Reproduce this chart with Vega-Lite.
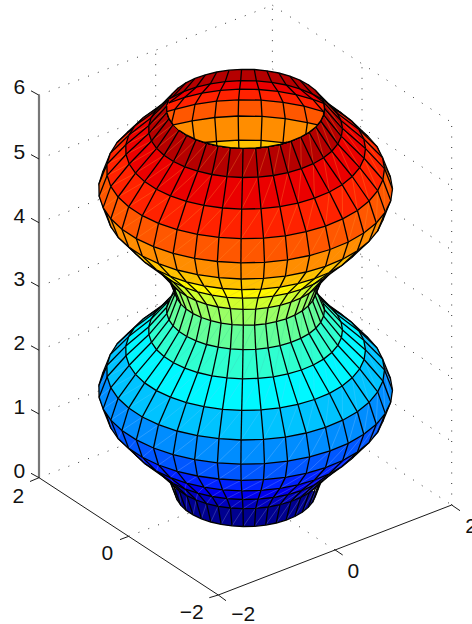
{"$schema":"https://vega.github.io/schema/vega-lite/v6.json","width":472,"height":624,"padding":0,"autosize":{"type":"none"},"background":"white","view":{"stroke":null},
"config":{"line":{"stroke":"#000","strokeWidth":1.3}},
"datasets":{
"d":[
{"i":0,"n":-10,"a":-10,"x":175.2,"y":488.8},{"i":0,"n":-9,"a":-9,"x":175.3,"y":494.5},{"i":0,"n":-8,"a":-8,"x":177.2,"y":500},{"i":0,"n":-7,"a":-7,"x":180.9,"y":505.4},{"i":0,"n":-6,"a":-6,"x":186.2,"y":510.4},{"i":0,"n":-5,"a":-5,"x":193.1,"y":514.9},{"i":0,"n":-4,"a":-4,"x":201.4,"y":518.8},{"i":0,"n":-3,"a":-3,"x":210.8,"y":522},{"i":0,"n":-2,"a":-2,"x":221.1,"y":524.4},{"i":0,"n":-1,"a":-1,"x":232,"y":525.9},{"i":0,"n":0,"a":0,"x":243.3,"y":526.5},{"i":0,"n":1,"a":1,"x":254.6,"y":526.3},{"i":0,"n":2,"a":2,"x":265.7,"y":525.1},{"i":0,"n":3,"a":3,"x":276.3,"y":523},{"i":0,"n":4,"a":4,"x":286.1,"y":520.1},{"i":0,"n":5,"a":5,"x":294.8,"y":516.5},{"i":0,"n":6,"a":6,"x":302.2,"y":512.2},{"i":0,"n":7,"a":7,"x":308.2,"y":507.4},{"i":0,"n":8,"a":8,"x":312.6,"y":502.2},{"i":0,"n":9,"a":9,"x":315.2,"y":496.7},{"i":0,"n":10,"a":10,"x":316,"y":491},
{"i":1,"n":-10,"a":-11,"x":166.7,"y":466.4},{"i":1,"n":-9,"a":-10,"x":166.8,"y":472.7},{"i":1,"n":-8,"a":-9,"x":169,"y":479},{"i":1,"n":-7,"a":-8,"x":173.1,"y":485},{"i":1,"n":-6,"a":-7,"x":179.1,"y":490.6},{"i":1,"n":-5,"a":-6,"x":186.8,"y":495.6},{"i":1,"n":-4,"a":-5,"x":196.1,"y":500},{"i":1,"n":-3,"a":-4,"x":206.6,"y":503.6},{"i":1,"n":-2,"a":-3,"x":218.1,"y":506.3},{"i":1,"n":-1,"a":-2,"x":230.4,"y":508},{"i":1,"n":0,"a":-1,"x":243,"y":508.7},{"i":1,"n":1,"a":0,"x":255.7,"y":508.4},{"i":1,"n":2,"a":1,"x":268.1,"y":507},{"i":1,"n":3,"a":2,"x":280,"y":504.7},{"i":1,"n":4,"a":3,"x":290.9,"y":501.5},{"i":1,"n":5,"a":4,"x":300.7,"y":497.4},{"i":1,"n":6,"a":5,"x":309.1,"y":492.7},{"i":1,"n":7,"a":6,"x":315.8,"y":487.3},{"i":1,"n":8,"a":7,"x":320.7,"y":481.4},{"i":1,"n":9,"a":8,"x":323.6,"y":475.2},{"i":1,"n":10,"a":9,"x":324.5,"y":468.9},
{"i":2,"n":-10,"a":-12,"x":148.8,"y":447.5},{"i":2,"n":-9,"a":-11,"x":148.9,"y":455.3},{"i":2,"n":-8,"a":-10,"x":151.5,"y":463},{"i":2,"n":-7,"a":-9,"x":156.6,"y":470.4},{"i":2,"n":-6,"a":-8,"x":164,"y":477.3},{"i":2,"n":-5,"a":-7,"x":173.5,"y":483.5},{"i":2,"n":-4,"a":-6,"x":184.8,"y":488.8},{"i":2,"n":-3,"a":-5,"x":197.7,"y":493.2},{"i":2,"n":-2,"a":-4,"x":211.9,"y":496.5},{"i":2,"n":-1,"a":-3,"x":226.9,"y":498.6},{"i":2,"n":0,"a":-2,"x":242.5,"y":499.5},{"i":2,"n":1,"a":-1,"x":258,"y":499.1},{"i":2,"n":2,"a":0,"x":273.3,"y":497.5},{"i":2,"n":3,"a":1,"x":287.9,"y":494.6},{"i":2,"n":4,"a":2,"x":301.3,"y":490.7},{"i":2,"n":5,"a":3,"x":313.3,"y":485.7},{"i":2,"n":6,"a":4,"x":323.6,"y":479.8},{"i":2,"n":7,"a":5,"x":331.8,"y":473.2},{"i":2,"n":8,"a":6,"x":337.8,"y":466},{"i":2,"n":9,"a":7,"x":341.4,"y":458.4},{"i":2,"n":10,"a":8,"x":342.5,"y":450.6},
{"i":3,"n":-10,"a":-13,"x":125.8,"y":426.6},{"i":3,"n":-9,"a":-12,"x":126,"y":436.3},{"i":3,"n":-8,"a":-11,"x":129.2,"y":445.8},{"i":3,"n":-7,"a":-10,"x":135.5,"y":454.9},{"i":3,"n":-6,"a":-9,"x":144.6,"y":463.4},{"i":3,"n":-5,"a":-8,"x":156.4,"y":471.1},{"i":3,"n":-4,"a":-7,"x":170.4,"y":477.7},{"i":3,"n":-3,"a":-6,"x":186.4,"y":483.1},{"i":3,"n":-2,"a":-5,"x":203.9,"y":487.2},{"i":3,"n":-1,"a":-4,"x":222.5,"y":489.8},{"i":3,"n":0,"a":-3,"x":241.7,"y":490.9},{"i":3,"n":1,"a":-2,"x":261,"y":490.4},{"i":3,"n":2,"a":-1,"x":279.9,"y":488.4},{"i":3,"n":3,"a":0,"x":297.9,"y":484.9},{"i":3,"n":4,"a":1,"x":314.5,"y":480},{"i":3,"n":5,"a":2,"x":329.4,"y":473.8},{"i":3,"n":6,"a":3,"x":342.1,"y":466.5},{"i":3,"n":7,"a":4,"x":352.2,"y":458.3},{"i":3,"n":8,"a":5,"x":359.7,"y":449.4},{"i":3,"n":9,"a":6,"x":364.1,"y":440},{"i":3,"n":10,"a":7,"x":365.5,"y":430.4},
{"i":4,"n":-10,"a":-14,"x":106.9,"y":405.8},{"i":4,"n":-9,"a":-13,"x":107.1,"y":417},{"i":4,"n":-8,"a":-12,"x":110.8,"y":428},{"i":4,"n":-7,"a":-11,"x":118.1,"y":438.6},{"i":4,"n":-6,"a":-10,"x":128.7,"y":448.4},{"i":4,"n":-5,"a":-9,"x":142.3,"y":457.3},{"i":4,"n":-4,"a":-8,"x":158.5,"y":465},{"i":4,"n":-3,"a":-7,"x":177.1,"y":471.3},{"i":4,"n":-2,"a":-6,"x":197.4,"y":476},{"i":4,"n":-1,"a":-5,"x":218.9,"y":479},{"i":4,"n":0,"a":-4,"x":241.1,"y":480.3},{"i":4,"n":1,"a":-3,"x":263.5,"y":479.7},{"i":4,"n":2,"a":-2,"x":285.4,"y":477.4},{"i":4,"n":3,"a":-1,"x":306.2,"y":473.3},{"i":4,"n":4,"a":0,"x":325.5,"y":467.7},{"i":4,"n":5,"a":1,"x":342.7,"y":460.5},{"i":4,"n":6,"a":2,"x":357.4,"y":452.1},{"i":4,"n":7,"a":3,"x":369.1,"y":442.6},{"i":4,"n":8,"a":4,"x":377.7,"y":432.2},{"i":4,"n":9,"a":5,"x":382.9,"y":421.3},{"i":4,"n":10,"a":6,"x":384.5,"y":410.2},
{"i":5,"n":-12,"a":-17,"x":109.7,"y":362.5},{"i":5,"n":-11,"a":-16,"x":102.5,"y":373.8},{"i":5,"n":-10,"a":-15,"x":98.9,"y":385.4},{"i":5,"n":-9,"a":-14,"x":99.1,"y":397.3},{"i":5,"n":-8,"a":-13,"x":103.1,"y":408.9},{"i":5,"n":-7,"a":-12,"x":110.8,"y":420.1},{"i":5,"n":-6,"a":-11,"x":121.9,"y":430.5},{"i":5,"n":-5,"a":-10,"x":136.3,"y":439.9},{"i":5,"n":-4,"a":-9,"x":153.5,"y":448},{"i":5,"n":-3,"a":-8,"x":173.1,"y":454.7},{"i":5,"n":-2,"a":-7,"x":194.6,"y":459.7},{"i":5,"n":-1,"a":-6,"x":217.4,"y":462.8},{"i":5,"n":0,"a":-5,"x":240.9,"y":464.2},{"i":5,"n":1,"a":-4,"x":264.5,"y":463.6},{"i":5,"n":2,"a":-3,"x":287.6,"y":461.1},{"i":5,"n":3,"a":-2,"x":309.7,"y":456.8},{"i":5,"n":4,"a":-1,"x":330.1,"y":450.8},{"i":5,"n":5,"a":0,"x":348.3,"y":443.3},{"i":5,"n":6,"a":1,"x":363.8,"y":434.3},{"i":5,"n":7,"a":2,"x":376.3,"y":424.3},{"i":5,"n":8,"a":3,"x":385.3,"y":413.4},{"i":5,"n":9,"a":4,"x":390.8,"y":401.9},{"i":5,"n":10,"a":5,"x":392.5,"y":390.1},{"i":5,"n":11,"a":6,"x":390.4,"y":378.3},{"i":5,"n":12,"a":7,"x":384.5,"y":366.8},
{"i":6,"n":-14,"a":-20,"x":140.6,"y":324.9},{"i":6,"n":-13,"a":-19,"x":127.3,"y":333.9},{"i":6,"n":-12,"a":-18,"x":117.1,"y":343.8},{"i":6,"n":-11,"a":-17,"x":110.3,"y":354.5},{"i":6,"n":-10,"a":-16,"x":106.9,"y":365.5},{"i":6,"n":-9,"a":-15,"x":107.1,"y":376.7},{"i":6,"n":-8,"a":-14,"x":110.8,"y":387.7},{"i":6,"n":-7,"a":-13,"x":118.1,"y":398.3},{"i":6,"n":-6,"a":-12,"x":128.7,"y":408.1},{"i":6,"n":-5,"a":-11,"x":142.3,"y":417},{"i":6,"n":-4,"a":-10,"x":158.5,"y":424.7},{"i":6,"n":-3,"a":-9,"x":177.1,"y":431},{"i":6,"n":-2,"a":-8,"x":197.4,"y":435.7},{"i":6,"n":-1,"a":-7,"x":218.9,"y":438.7},{"i":6,"n":0,"a":-6,"x":241.1,"y":440},{"i":6,"n":1,"a":-5,"x":263.5,"y":439.4},{"i":6,"n":2,"a":-4,"x":285.4,"y":437.1},{"i":6,"n":3,"a":-3,"x":306.2,"y":433},{"i":6,"n":4,"a":-2,"x":325.5,"y":427.4},{"i":6,"n":5,"a":-1,"x":342.7,"y":420.2},{"i":6,"n":6,"a":0,"x":357.4,"y":411.8},{"i":6,"n":7,"a":1,"x":369.1,"y":402.3},{"i":6,"n":8,"a":2,"x":377.7,"y":391.9},{"i":6,"n":9,"a":3,"x":382.9,"y":381},{"i":6,"n":10,"a":4,"x":384.5,"y":369.9},{"i":6,"n":11,"a":5,"x":382.5,"y":358.8},{"i":6,"n":12,"a":6,"x":377,"y":347.9},{"i":6,"n":13,"a":7,"x":368,"y":337.7},{"i":6,"n":14,"a":8,"x":355.9,"y":328.3},
{"i":7,"n":-15,"a":-22,"x":168.8,"y":304.3},{"i":7,"n":-14,"a":-21,"x":155,"y":311},{"i":7,"n":-13,"a":-20,"x":143.5,"y":318.8},{"i":7,"n":-12,"a":-19,"x":134.7,"y":327.4},{"i":7,"n":-11,"a":-18,"x":128.7,"y":336.6},{"i":7,"n":-10,"a":-17,"x":125.8,"y":346.1},{"i":7,"n":-9,"a":-16,"x":126,"y":355.8},{"i":7,"n":-8,"a":-15,"x":129.2,"y":365.3},{"i":7,"n":-7,"a":-14,"x":135.5,"y":374.4},{"i":7,"n":-6,"a":-13,"x":144.6,"y":382.9},{"i":7,"n":-5,"a":-12,"x":156.4,"y":390.6},{"i":7,"n":-4,"a":-11,"x":170.4,"y":397.2},{"i":7,"n":-3,"a":-10,"x":186.4,"y":402.6},{"i":7,"n":-2,"a":-9,"x":203.9,"y":406.7},{"i":7,"n":-1,"a":-8,"x":222.5,"y":409.3},{"i":7,"n":0,"a":-7,"x":241.7,"y":410.4},{"i":7,"n":1,"a":-6,"x":261,"y":409.9},{"i":7,"n":2,"a":-5,"x":279.9,"y":407.9},{"i":7,"n":3,"a":-4,"x":297.9,"y":404.4},{"i":7,"n":4,"a":-3,"x":314.5,"y":399.5},{"i":7,"n":5,"a":-2,"x":329.4,"y":393.3},{"i":7,"n":6,"a":-1,"x":342.1,"y":386},{"i":7,"n":7,"a":0,"x":352.2,"y":377.8},{"i":7,"n":8,"a":1,"x":359.7,"y":368.9},{"i":7,"n":9,"a":2,"x":364.1,"y":359.5},{"i":7,"n":10,"a":3,"x":365.5,"y":349.9},{"i":7,"n":11,"a":4,"x":363.8,"y":340.3},{"i":7,"n":12,"a":5,"x":359,"y":330.9},{"i":7,"n":13,"a":6,"x":351.3,"y":322},{"i":7,"n":14,"a":7,"x":340.8,"y":313.9},{"i":7,"n":15,"a":8,"x":327.9,"y":306.8},
{"i":8,"n":-14,"a":-22,"x":172.3,"y":298.5},{"i":8,"n":-13,"a":-21,"x":163,"y":304.8},{"i":8,"n":-12,"a":-20,"x":155.9,"y":311.7},{"i":8,"n":-11,"a":-19,"x":151.1,"y":319.1},{"i":8,"n":-10,"a":-18,"x":148.8,"y":326.8},{"i":8,"n":-9,"a":-17,"x":148.9,"y":334.6},{"i":8,"n":-8,"a":-16,"x":151.5,"y":342.3},{"i":8,"n":-7,"a":-15,"x":156.6,"y":349.7},{"i":8,"n":-6,"a":-14,"x":164,"y":356.6},{"i":8,"n":-5,"a":-13,"x":173.5,"y":362.8},{"i":8,"n":-4,"a":-12,"x":184.8,"y":368.1},{"i":8,"n":-3,"a":-11,"x":197.7,"y":372.5},{"i":8,"n":-2,"a":-10,"x":211.9,"y":375.8},{"i":8,"n":-1,"a":-9,"x":226.9,"y":377.9},{"i":8,"n":0,"a":-8,"x":242.5,"y":378.8},{"i":8,"n":1,"a":-7,"x":258,"y":378.4},{"i":8,"n":2,"a":-6,"x":273.3,"y":376.8},{"i":8,"n":3,"a":-5,"x":287.9,"y":373.9},{"i":8,"n":4,"a":-4,"x":301.3,"y":370},{"i":8,"n":5,"a":-3,"x":313.3,"y":365},{"i":8,"n":6,"a":-2,"x":323.6,"y":359.1},{"i":8,"n":7,"a":-1,"x":331.8,"y":352.5},{"i":8,"n":8,"a":0,"x":337.8,"y":345.3},{"i":8,"n":9,"a":1,"x":341.4,"y":337.7},{"i":8,"n":10,"a":2,"x":342.5,"y":329.9},{"i":8,"n":11,"a":3,"x":341.1,"y":322.1},{"i":8,"n":12,"a":4,"x":337.2,"y":314.5},{"i":8,"n":13,"a":5,"x":331,"y":307.4},{"i":8,"n":14,"a":6,"x":322.5,"y":300.8},
{"i":9,"n":-13,"a":-22,"x":178.3,"y":289.3},{"i":9,"n":-12,"a":-21,"x":172.5,"y":294.9},{"i":9,"n":-11,"a":-20,"x":168.6,"y":301},{"i":9,"n":-10,"a":-19,"x":166.7,"y":307.3},{"i":9,"n":-9,"a":-18,"x":166.8,"y":313.6},{"i":9,"n":-8,"a":-17,"x":169,"y":319.9},{"i":9,"n":-7,"a":-16,"x":173.1,"y":325.9},{"i":9,"n":-6,"a":-15,"x":179.1,"y":331.5},{"i":9,"n":-5,"a":-14,"x":186.8,"y":336.5},{"i":9,"n":-4,"a":-13,"x":196.1,"y":340.9},{"i":9,"n":-3,"a":-12,"x":206.6,"y":344.5},{"i":9,"n":-2,"a":-11,"x":218.1,"y":347.2},{"i":9,"n":-1,"a":-10,"x":230.4,"y":348.9},{"i":9,"n":0,"a":-9,"x":243,"y":349.6},{"i":9,"n":1,"a":-8,"x":255.7,"y":349.3},{"i":9,"n":2,"a":-7,"x":268.1,"y":347.9},{"i":9,"n":3,"a":-6,"x":280,"y":345.6},{"i":9,"n":4,"a":-5,"x":290.9,"y":342.4},{"i":9,"n":5,"a":-4,"x":300.7,"y":338.3},{"i":9,"n":6,"a":-3,"x":309.1,"y":333.6},{"i":9,"n":7,"a":-2,"x":315.8,"y":328.2},{"i":9,"n":8,"a":-1,"x":320.7,"y":322.3},{"i":9,"n":9,"a":0,"x":323.6,"y":316.1},{"i":9,"n":10,"a":1,"x":324.5,"y":309.8},{"i":9,"n":11,"a":2,"x":323.4,"y":303.4},{"i":9,"n":12,"a":3,"x":320.2,"y":297.3},{"i":9,"n":13,"a":4,"x":315.1,"y":291.4},
{"i":10,"n":-10,"a":-20,"x":175.2,"y":287.5},{"i":10,"n":-9,"a":-19,"x":175.3,"y":293.2},{"i":10,"n":-8,"a":-18,"x":177.2,"y":298.7},{"i":10,"n":-7,"a":-17,"x":180.9,"y":304.1},{"i":10,"n":-6,"a":-16,"x":186.2,"y":309.1},{"i":10,"n":-5,"a":-15,"x":193.1,"y":313.6},{"i":10,"n":-4,"a":-14,"x":201.4,"y":317.5},{"i":10,"n":-3,"a":-13,"x":210.8,"y":320.7},{"i":10,"n":-2,"a":-12,"x":221.1,"y":323.1},{"i":10,"n":-1,"a":-11,"x":232,"y":324.6},{"i":10,"n":0,"a":-10,"x":243.3,"y":325.2},{"i":10,"n":1,"a":-9,"x":254.6,"y":325},{"i":10,"n":2,"a":-8,"x":265.7,"y":323.8},{"i":10,"n":3,"a":-7,"x":276.3,"y":321.7},{"i":10,"n":4,"a":-6,"x":286.1,"y":318.8},{"i":10,"n":5,"a":-5,"x":294.8,"y":315.2},{"i":10,"n":6,"a":-4,"x":302.2,"y":310.9},{"i":10,"n":7,"a":-3,"x":308.2,"y":306.1},{"i":10,"n":8,"a":-2,"x":312.6,"y":300.9},{"i":10,"n":9,"a":-1,"x":315.2,"y":295.4},{"i":10,"n":10,"a":0,"x":316,"y":289.7},
{"i":11,"n":-10,"a":-21,"x":166.7,"y":267.1},{"i":11,"n":-9,"a":-20,"x":166.8,"y":273.4},{"i":11,"n":-8,"a":-19,"x":169,"y":279.7},{"i":11,"n":-7,"a":-18,"x":173.1,"y":285.7},{"i":11,"n":-6,"a":-17,"x":179.1,"y":291.3},{"i":11,"n":-5,"a":-16,"x":186.8,"y":296.3},{"i":11,"n":-4,"a":-15,"x":196.1,"y":300.7},{"i":11,"n":-3,"a":-14,"x":206.6,"y":304.3},{"i":11,"n":-2,"a":-13,"x":218.1,"y":307},{"i":11,"n":-1,"a":-12,"x":230.4,"y":308.7},{"i":11,"n":0,"a":-11,"x":243,"y":309.4},{"i":11,"n":1,"a":-10,"x":255.7,"y":309.1},{"i":11,"n":2,"a":-9,"x":268.1,"y":307.7},{"i":11,"n":3,"a":-8,"x":280,"y":305.4},{"i":11,"n":4,"a":-7,"x":290.9,"y":302.2},{"i":11,"n":5,"a":-6,"x":300.7,"y":298.1},{"i":11,"n":6,"a":-5,"x":309.1,"y":293.4},{"i":11,"n":7,"a":-4,"x":315.8,"y":288},{"i":11,"n":8,"a":-3,"x":320.7,"y":282.1},{"i":11,"n":9,"a":-2,"x":323.6,"y":275.9},{"i":11,"n":10,"a":-1,"x":324.5,"y":269.6},
{"i":12,"n":-10,"a":-22,"x":148.8,"y":246.2},{"i":12,"n":-9,"a":-21,"x":148.9,"y":254},{"i":12,"n":-8,"a":-20,"x":151.5,"y":261.7},{"i":12,"n":-7,"a":-19,"x":156.6,"y":269.1},{"i":12,"n":-6,"a":-18,"x":164,"y":276},{"i":12,"n":-5,"a":-17,"x":173.5,"y":282.2},{"i":12,"n":-4,"a":-16,"x":184.8,"y":287.5},{"i":12,"n":-3,"a":-15,"x":197.7,"y":291.9},{"i":12,"n":-2,"a":-14,"x":211.9,"y":295.2},{"i":12,"n":-1,"a":-13,"x":226.9,"y":297.3},{"i":12,"n":0,"a":-12,"x":242.5,"y":298.2},{"i":12,"n":1,"a":-11,"x":258,"y":297.8},{"i":12,"n":2,"a":-10,"x":273.3,"y":296.2},{"i":12,"n":3,"a":-9,"x":287.9,"y":293.3},{"i":12,"n":4,"a":-8,"x":301.3,"y":289.4},{"i":12,"n":5,"a":-7,"x":313.3,"y":284.4},{"i":12,"n":6,"a":-6,"x":323.6,"y":278.5},{"i":12,"n":7,"a":-5,"x":331.8,"y":271.9},{"i":12,"n":8,"a":-4,"x":337.8,"y":264.7},{"i":12,"n":9,"a":-3,"x":341.4,"y":257.1},{"i":12,"n":10,"a":-2,"x":342.5,"y":249.3},
{"i":13,"n":-10,"a":-23,"x":125.8,"y":225.3},{"i":13,"n":-9,"a":-22,"x":126,"y":235},{"i":13,"n":-8,"a":-21,"x":129.2,"y":244.5},{"i":13,"n":-7,"a":-20,"x":135.5,"y":253.6},{"i":13,"n":-6,"a":-19,"x":144.6,"y":262.1},{"i":13,"n":-5,"a":-18,"x":156.4,"y":269.8},{"i":13,"n":-4,"a":-17,"x":170.4,"y":276.4},{"i":13,"n":-3,"a":-16,"x":186.4,"y":281.8},{"i":13,"n":-2,"a":-15,"x":203.9,"y":285.9},{"i":13,"n":-1,"a":-14,"x":222.5,"y":288.5},{"i":13,"n":0,"a":-13,"x":241.7,"y":289.6},{"i":13,"n":1,"a":-12,"x":261,"y":289.1},{"i":13,"n":2,"a":-11,"x":279.9,"y":287.1},{"i":13,"n":3,"a":-10,"x":297.9,"y":283.6},{"i":13,"n":4,"a":-9,"x":314.5,"y":278.7},{"i":13,"n":5,"a":-8,"x":329.4,"y":272.5},{"i":13,"n":6,"a":-7,"x":342.1,"y":265.2},{"i":13,"n":7,"a":-6,"x":352.2,"y":257},{"i":13,"n":8,"a":-5,"x":359.7,"y":248.1},{"i":13,"n":9,"a":-4,"x":364.1,"y":238.7},{"i":13,"n":10,"a":-3,"x":365.5,"y":229.1},
{"i":14,"n":-10,"a":-24,"x":106.9,"y":204.5},{"i":14,"n":-9,"a":-23,"x":107.1,"y":215.7},{"i":14,"n":-8,"a":-22,"x":110.8,"y":226.7},{"i":14,"n":-7,"a":-21,"x":118.1,"y":237.3},{"i":14,"n":-6,"a":-20,"x":128.7,"y":247.1},{"i":14,"n":-5,"a":-19,"x":142.3,"y":256},{"i":14,"n":-4,"a":-18,"x":158.5,"y":263.7},{"i":14,"n":-3,"a":-17,"x":177.1,"y":270},{"i":14,"n":-2,"a":-16,"x":197.4,"y":274.7},{"i":14,"n":-1,"a":-15,"x":218.9,"y":277.7},{"i":14,"n":0,"a":-14,"x":241.1,"y":279},{"i":14,"n":1,"a":-13,"x":263.5,"y":278.4},{"i":14,"n":2,"a":-12,"x":285.4,"y":276.1},{"i":14,"n":3,"a":-11,"x":306.2,"y":272},{"i":14,"n":4,"a":-10,"x":325.5,"y":266.4},{"i":14,"n":5,"a":-9,"x":342.7,"y":259.2},{"i":14,"n":6,"a":-8,"x":357.4,"y":250.8},{"i":14,"n":7,"a":-7,"x":369.1,"y":241.3},{"i":14,"n":8,"a":-6,"x":377.7,"y":230.9},{"i":14,"n":9,"a":-5,"x":382.9,"y":220},{"i":14,"n":10,"a":-4,"x":384.5,"y":208.9},
{"i":15,"n":-12,"a":-27,"x":109.7,"y":161.2},{"i":15,"n":-11,"a":-26,"x":102.5,"y":172.5},{"i":15,"n":-10,"a":-25,"x":98.9,"y":184.1},{"i":15,"n":-9,"a":-24,"x":99.1,"y":196},{"i":15,"n":-8,"a":-23,"x":103.1,"y":207.6},{"i":15,"n":-7,"a":-22,"x":110.8,"y":218.8},{"i":15,"n":-6,"a":-21,"x":121.9,"y":229.2},{"i":15,"n":-5,"a":-20,"x":136.3,"y":238.6},{"i":15,"n":-4,"a":-19,"x":153.5,"y":246.7},{"i":15,"n":-3,"a":-18,"x":173.1,"y":253.4},{"i":15,"n":-2,"a":-17,"x":194.6,"y":258.4},{"i":15,"n":-1,"a":-16,"x":217.4,"y":261.5},{"i":15,"n":0,"a":-15,"x":240.9,"y":262.9},{"i":15,"n":1,"a":-14,"x":264.5,"y":262.3},{"i":15,"n":2,"a":-13,"x":287.6,"y":259.8},{"i":15,"n":3,"a":-12,"x":309.7,"y":255.5},{"i":15,"n":4,"a":-11,"x":330.1,"y":249.5},{"i":15,"n":5,"a":-10,"x":348.3,"y":242},{"i":15,"n":6,"a":-9,"x":363.8,"y":233},{"i":15,"n":7,"a":-8,"x":376.3,"y":223},{"i":15,"n":8,"a":-7,"x":385.3,"y":212.1},{"i":15,"n":9,"a":-6,"x":390.8,"y":200.6},{"i":15,"n":10,"a":-5,"x":392.5,"y":188.8},{"i":15,"n":11,"a":-4,"x":390.4,"y":177},{"i":15,"n":12,"a":-3,"x":384.5,"y":165.5},
{"i":16,"n":-14,"a":-30,"x":140.6,"y":123.6},{"i":16,"n":-13,"a":-29,"x":127.3,"y":132.6},{"i":16,"n":-12,"a":-28,"x":117.1,"y":142.5},{"i":16,"n":-11,"a":-27,"x":110.3,"y":153.2},{"i":16,"n":-10,"a":-26,"x":106.9,"y":164.2},{"i":16,"n":-9,"a":-25,"x":107.1,"y":175.4},{"i":16,"n":-8,"a":-24,"x":110.8,"y":186.4},{"i":16,"n":-7,"a":-23,"x":118.1,"y":197},{"i":16,"n":-6,"a":-22,"x":128.7,"y":206.8},{"i":16,"n":-5,"a":-21,"x":142.3,"y":215.7},{"i":16,"n":-4,"a":-20,"x":158.5,"y":223.4},{"i":16,"n":-3,"a":-19,"x":177.1,"y":229.7},{"i":16,"n":-2,"a":-18,"x":197.4,"y":234.4},{"i":16,"n":-1,"a":-17,"x":218.9,"y":237.4},{"i":16,"n":0,"a":-16,"x":241.1,"y":238.7},{"i":16,"n":1,"a":-15,"x":263.5,"y":238.1},{"i":16,"n":2,"a":-14,"x":285.4,"y":235.8},{"i":16,"n":3,"a":-13,"x":306.2,"y":231.7},{"i":16,"n":4,"a":-12,"x":325.5,"y":226.1},{"i":16,"n":5,"a":-11,"x":342.7,"y":218.9},{"i":16,"n":6,"a":-10,"x":357.4,"y":210.5},{"i":16,"n":7,"a":-9,"x":369.1,"y":201},{"i":16,"n":8,"a":-8,"x":377.7,"y":190.6},{"i":16,"n":9,"a":-7,"x":382.9,"y":179.7},{"i":16,"n":10,"a":-6,"x":384.5,"y":168.6},{"i":16,"n":11,"a":-5,"x":382.5,"y":157.5},{"i":16,"n":12,"a":-4,"x":377,"y":146.6},{"i":16,"n":13,"a":-3,"x":368,"y":136.4},{"i":16,"n":14,"a":-2,"x":355.9,"y":127},
{"i":17,"n":-15,"a":-32,"x":168.8,"y":103},{"i":17,"n":-14,"a":-31,"x":155,"y":109.7},{"i":17,"n":-13,"a":-30,"x":143.5,"y":117.5},{"i":17,"n":-12,"a":-29,"x":134.7,"y":126.1},{"i":17,"n":-11,"a":-28,"x":128.7,"y":135.3},{"i":17,"n":-10,"a":-27,"x":125.8,"y":144.8},{"i":17,"n":-9,"a":-26,"x":126,"y":154.5},{"i":17,"n":-8,"a":-25,"x":129.2,"y":164},{"i":17,"n":-7,"a":-24,"x":135.5,"y":173.1},{"i":17,"n":-6,"a":-23,"x":144.6,"y":181.6},{"i":17,"n":-5,"a":-22,"x":156.4,"y":189.3},{"i":17,"n":-4,"a":-21,"x":170.4,"y":195.9},{"i":17,"n":-3,"a":-20,"x":186.4,"y":201.3},{"i":17,"n":-2,"a":-19,"x":203.9,"y":205.4},{"i":17,"n":-1,"a":-18,"x":222.5,"y":208},{"i":17,"n":0,"a":-17,"x":241.7,"y":209.1},{"i":17,"n":1,"a":-16,"x":261,"y":208.6},{"i":17,"n":2,"a":-15,"x":279.9,"y":206.6},{"i":17,"n":3,"a":-14,"x":297.9,"y":203.1},{"i":17,"n":4,"a":-13,"x":314.5,"y":198.2},{"i":17,"n":5,"a":-12,"x":329.4,"y":192},{"i":17,"n":6,"a":-11,"x":342.1,"y":184.7},{"i":17,"n":7,"a":-10,"x":352.2,"y":176.5},{"i":17,"n":8,"a":-9,"x":359.7,"y":167.6},{"i":17,"n":9,"a":-8,"x":364.1,"y":158.2},{"i":17,"n":10,"a":-7,"x":365.5,"y":148.6},{"i":17,"n":11,"a":-6,"x":363.8,"y":139},{"i":17,"n":12,"a":-5,"x":359,"y":129.6},{"i":17,"n":13,"a":-4,"x":351.3,"y":120.7},{"i":17,"n":14,"a":-3,"x":340.8,"y":112.6},{"i":17,"n":15,"a":-2,"x":327.9,"y":105.5},
{"i":18,"n":-14,"a":-32,"x":172.3,"y":97.2},{"i":18,"n":-13,"a":-31,"x":163,"y":103.5},{"i":18,"n":-12,"a":-30,"x":155.9,"y":110.4},{"i":18,"n":-11,"a":-29,"x":151.1,"y":117.8},{"i":18,"n":-10,"a":-28,"x":148.8,"y":125.5},{"i":18,"n":-9,"a":-27,"x":148.9,"y":133.3},{"i":18,"n":-8,"a":-26,"x":151.5,"y":141},{"i":18,"n":-7,"a":-25,"x":156.6,"y":148.4},{"i":18,"n":-6,"a":-24,"x":164,"y":155.3},{"i":18,"n":-5,"a":-23,"x":173.5,"y":161.5},{"i":18,"n":-4,"a":-22,"x":184.8,"y":166.8},{"i":18,"n":-3,"a":-21,"x":197.7,"y":171.2},{"i":18,"n":-2,"a":-20,"x":211.9,"y":174.5},{"i":18,"n":-1,"a":-19,"x":226.9,"y":176.6},{"i":18,"n":0,"a":-18,"x":242.5,"y":177.5},{"i":18,"n":1,"a":-17,"x":258,"y":177.1},{"i":18,"n":2,"a":-16,"x":273.3,"y":175.5},{"i":18,"n":3,"a":-15,"x":287.9,"y":172.6},{"i":18,"n":4,"a":-14,"x":301.3,"y":168.7},{"i":18,"n":5,"a":-13,"x":313.3,"y":163.7},{"i":18,"n":6,"a":-12,"x":323.6,"y":157.8},{"i":18,"n":7,"a":-11,"x":331.8,"y":151.2},{"i":18,"n":8,"a":-10,"x":337.8,"y":144},{"i":18,"n":9,"a":-9,"x":341.4,"y":136.4},{"i":18,"n":10,"a":-8,"x":342.5,"y":128.6},{"i":18,"n":11,"a":-7,"x":341.1,"y":120.8},{"i":18,"n":12,"a":-6,"x":337.2,"y":113.2},{"i":18,"n":13,"a":-5,"x":331,"y":106.1},{"i":18,"n":14,"a":-4,"x":322.5,"y":99.5},
{"i":19,"n":-19,"a":-38,"x":241.6,"y":69.3},{"i":19,"n":-18,"a":-37,"x":229,"y":70.2},{"i":19,"n":-17,"a":-36,"x":216.8,"y":72},{"i":19,"n":-16,"a":-35,"x":205.4,"y":74.8},{"i":19,"n":-15,"a":-34,"x":195,"y":78.4},{"i":19,"n":-14,"a":-33,"x":185.9,"y":82.9},{"i":19,"n":-13,"a":-32,"x":178.3,"y":88},{"i":19,"n":-12,"a":-31,"x":172.5,"y":93.6},{"i":19,"n":-11,"a":-30,"x":168.6,"y":99.7},{"i":19,"n":-10,"a":-29,"x":166.7,"y":106},{"i":19,"n":-9,"a":-28,"x":166.8,"y":112.3},{"i":19,"n":-8,"a":-27,"x":169,"y":118.6},{"i":19,"n":-7,"a":-26,"x":173.1,"y":124.6},{"i":19,"n":-6,"a":-25,"x":179.1,"y":130.2},{"i":19,"n":-5,"a":-24,"x":186.8,"y":135.2},{"i":19,"n":-4,"a":-23,"x":196.1,"y":139.6},{"i":19,"n":-3,"a":-22,"x":206.6,"y":143.2},{"i":19,"n":-2,"a":-21,"x":218.1,"y":145.9},{"i":19,"n":-1,"a":-20,"x":230.4,"y":147.6},{"i":19,"n":0,"a":-19,"x":243,"y":148.3},{"i":19,"n":1,"a":-18,"x":255.7,"y":148},{"i":19,"n":2,"a":-17,"x":268.1,"y":146.6},{"i":19,"n":3,"a":-16,"x":280,"y":144.3},{"i":19,"n":4,"a":-15,"x":290.9,"y":141.1},{"i":19,"n":5,"a":-14,"x":300.7,"y":137},{"i":19,"n":6,"a":-13,"x":309.1,"y":132.3},{"i":19,"n":7,"a":-12,"x":315.8,"y":126.9},{"i":19,"n":8,"a":-11,"x":320.7,"y":121},{"i":19,"n":9,"a":-10,"x":323.6,"y":114.8},{"i":19,"n":10,"a":-9,"x":324.5,"y":108.5},{"i":19,"n":11,"a":-8,"x":323.4,"y":102.1},{"i":19,"n":12,"a":-7,"x":320.2,"y":96},{"i":19,"n":13,"a":-6,"x":315.1,"y":90.1},{"i":19,"n":14,"a":-5,"x":308.2,"y":84.8},{"i":19,"n":15,"a":-4,"x":299.8,"y":80.1},{"i":19,"n":16,"a":-3,"x":289.8,"y":76.1},{"i":19,"n":17,"a":-2,"x":278.8,"y":73},{"i":19,"n":18,"a":-1,"x":266.8,"y":70.8},{"i":19,"n":19,"a":0,"x":254.3,"y":69.5},{"i":19,"n":20,"a":99,"x":241.6,"y":69.3}
],
"w":[
{"i":17,"s":0,"x":169,"y":99},{"i":17,"s":1,"x":172.3,"y":97.2},{"i":17,"s":2,"x":183.5,"y":91.7},{"i":17,"s":3,"x":196.2,"y":87.2},{"i":17,"s":4,"x":210.3,"y":83.8},{"i":17,"s":5,"x":225.2,"y":81.6},{"i":17,"s":6,"x":240.7,"y":80.6},{"i":17,"s":7,"x":256.4,"y":80.8},{"i":17,"s":8,"x":271.7,"y":82.3},{"i":17,"s":9,"x":286.3,"y":85},{"i":17,"s":10,"x":299.9,"y":88.9},{"i":17,"s":11,"x":312.1,"y":93.8},{"i":17,"s":12,"x":322.5,"y":99.5},{"i":17,"s":13,"x":323.4,"y":102.1},{"i":17,"s":14,"x":324.5,"y":108.5},{"i":17,"s":15,"x":323.6,"y":114.8},{"i":17,"s":16,"x":320.7,"y":121},{"i":17,"s":17,"x":315.8,"y":126.9},{"i":17,"s":18,"x":309.1,"y":132.3},{"i":17,"s":19,"x":300.7,"y":137},{"i":17,"s":20,"x":290.9,"y":141.1},{"i":17,"s":21,"x":280,"y":144.3},{"i":17,"s":22,"x":268.1,"y":146.6},{"i":17,"s":23,"x":255.7,"y":148},{"i":17,"s":24,"x":243,"y":148.3},{"i":17,"s":25,"x":230.4,"y":147.6},{"i":17,"s":26,"x":218.1,"y":145.9},{"i":17,"s":27,"x":206.6,"y":143.2},{"i":17,"s":28,"x":196.1,"y":139.6},{"i":17,"s":29,"x":186.8,"y":135.2},{"i":17,"s":30,"x":179.1,"y":130.2},{"i":17,"s":31,"x":173.1,"y":124.6},{"i":17,"s":32,"x":169,"y":118.6},{"i":17,"s":33,"x":166.8,"y":112.3},{"i":17,"s":34,"x":166.7,"y":106},{"i":17,"s":35,"x":168.6,"y":99.7},
{"i":16,"s":0,"x":168.8,"y":103},{"i":16,"s":1,"x":184.6,"y":97.4},{"i":16,"s":2,"x":201.9,"y":93.2},{"i":16,"s":3,"x":220.4,"y":90.4},{"i":16,"s":4,"x":239.6,"y":89.2},{"i":16,"s":5,"x":258.9,"y":89.5},{"i":16,"s":6,"x":277.9,"y":91.3},{"i":16,"s":7,"x":296,"y":94.7},{"i":16,"s":8,"x":312.8,"y":99.4},{"i":16,"s":9,"x":323.7,"y":103.3},{"i":16,"s":10,"x":324.5,"y":108.5},{"i":16,"s":11,"x":323.6,"y":114.8},{"i":16,"s":12,"x":320.7,"y":121},{"i":16,"s":13,"x":315.8,"y":126.9},{"i":16,"s":14,"x":309.1,"y":132.3},{"i":16,"s":15,"x":300.7,"y":137},{"i":16,"s":16,"x":290.9,"y":141.1},{"i":16,"s":17,"x":280,"y":144.3},{"i":16,"s":18,"x":268.1,"y":146.6},{"i":16,"s":19,"x":255.7,"y":148},{"i":16,"s":20,"x":243,"y":148.3},{"i":16,"s":21,"x":230.4,"y":147.6},{"i":16,"s":22,"x":218.1,"y":145.9},{"i":16,"s":23,"x":206.6,"y":143.2},{"i":16,"s":24,"x":196.1,"y":139.6},{"i":16,"s":25,"x":186.8,"y":135.2},{"i":16,"s":26,"x":179.1,"y":130.2},{"i":16,"s":27,"x":173.1,"y":124.6},{"i":16,"s":28,"x":169,"y":118.6},{"i":16,"s":29,"x":166.8,"y":112.3},{"i":16,"s":30,"x":166.7,"y":106},
{"i":15,"s":0,"x":166.7,"y":111.6},{"i":15,"s":1,"x":174.9,"y":109.3},{"i":15,"s":2,"x":195,"y":104.4},{"i":15,"s":3,"x":216.5,"y":101.2},{"i":15,"s":4,"x":238.6,"y":99.8},{"i":15,"s":5,"x":261.1,"y":100.1},{"i":15,"s":6,"x":283,"y":102.3},{"i":15,"s":7,"x":304,"y":106.2},{"i":15,"s":8,"x":323.5,"y":111.7},{"i":15,"s":9,"x":323.6,"y":114.8},{"i":15,"s":10,"x":320.7,"y":121},{"i":15,"s":11,"x":315.8,"y":126.9},{"i":15,"s":12,"x":309.1,"y":132.3},{"i":15,"s":13,"x":300.7,"y":137},{"i":15,"s":14,"x":290.9,"y":141.1},{"i":15,"s":15,"x":280,"y":144.3},{"i":15,"s":16,"x":268.1,"y":146.6},{"i":15,"s":17,"x":255.7,"y":148},{"i":15,"s":18,"x":243,"y":148.3},{"i":15,"s":19,"x":230.4,"y":147.6},{"i":15,"s":20,"x":218.1,"y":145.9},{"i":15,"s":21,"x":206.6,"y":143.2},{"i":15,"s":22,"x":196.1,"y":139.6},{"i":15,"s":23,"x":186.8,"y":135.2},{"i":15,"s":24,"x":179.1,"y":130.2},{"i":15,"s":25,"x":173.1,"y":124.6},{"i":15,"s":26,"x":169,"y":118.6},{"i":15,"s":27,"x":166.8,"y":112.3},
{"i":14,"s":0,"x":173.3,"y":124.8},{"i":14,"s":1,"x":192.1,"y":120.9},{"i":14,"s":2,"x":214.8,"y":117.5},{"i":14,"s":3,"x":238.2,"y":116},{"i":14,"s":4,"x":262,"y":116.4},{"i":14,"s":5,"x":285.2,"y":118.6},{"i":14,"s":6,"x":307.4,"y":122.7},{"i":14,"s":7,"x":317.7,"y":124.8},{"i":14,"s":8,"x":315.8,"y":126.9},{"i":14,"s":9,"x":309.1,"y":132.3},{"i":14,"s":10,"x":300.7,"y":137},{"i":14,"s":11,"x":290.9,"y":141.1},{"i":14,"s":12,"x":280,"y":144.3},{"i":14,"s":13,"x":268.1,"y":146.6},{"i":14,"s":14,"x":255.7,"y":148},{"i":14,"s":15,"x":243,"y":148.3},{"i":14,"s":16,"x":230.4,"y":147.6},{"i":14,"s":17,"x":218.1,"y":145.9},{"i":14,"s":18,"x":206.6,"y":143.2},{"i":14,"s":19,"x":196.1,"y":139.6},{"i":14,"s":20,"x":186.8,"y":135.2},{"i":14,"s":21,"x":179.1,"y":130.2},
{"i":13,"s":0,"x":204.1,"y":142.5},{"i":13,"s":1,"x":216.5,"y":141.5},{"i":13,"s":2,"x":238.6,"y":140.1},{"i":13,"s":3,"x":261.1,"y":140.4},{"i":13,"s":4,"x":283,"y":142.6},{"i":13,"s":5,"x":286.9,"y":142.5},{"i":13,"s":6,"x":280,"y":144.3},{"i":13,"s":7,"x":268.1,"y":146.6},{"i":13,"s":8,"x":255.7,"y":148},{"i":13,"s":9,"x":243,"y":148.3},{"i":13,"s":10,"x":230.4,"y":147.6},{"i":13,"s":11,"x":218.1,"y":145.9},{"i":13,"s":12,"x":206.6,"y":143.2}
],
"v":[
{"n":-15,"s":0,"x":195,"y":78.4},{"n":-15,"s":1,"x":183.5,"y":91.7},{"n":-15,"s":2,"x":168.8,"y":103},
{"n":-14,"s":0,"x":185.9,"y":82.9},{"n":-14,"s":1,"x":172.3,"y":97.2},
{"n":-16,"s":0,"x":205.4,"y":74.8},{"n":-16,"s":1,"x":196.2,"y":87.2},{"n":-16,"s":2,"x":184.6,"y":97.4},{"n":-16,"s":3,"x":174.9,"y":109.3},{"n":-16,"s":4,"x":171.6,"y":122.9},
{"n":-17,"s":0,"x":216.8,"y":72},{"n":-17,"s":1,"x":210.3,"y":83.8},{"n":-17,"s":2,"x":201.9,"y":93.2},{"n":-17,"s":3,"x":195,"y":104.4},{"n":-17,"s":4,"x":192.1,"y":120.9},{"n":-17,"s":5,"x":194.3,"y":139},
{"n":-18,"s":0,"x":229,"y":70.2},{"n":-18,"s":1,"x":225.2,"y":81.6},{"n":-18,"s":2,"x":220.4,"y":90.4},{"n":-18,"s":3,"x":216.5,"y":101.2},{"n":-18,"s":4,"x":214.8,"y":117.5},{"n":-18,"s":5,"x":216.5,"y":141.5},{"n":-18,"s":6,"x":216.8,"y":145.6},
{"n":-19,"s":0,"x":241.6,"y":69.3},{"n":-19,"s":1,"x":240.7,"y":80.6},{"n":-19,"s":2,"x":239.6,"y":89.2},{"n":-19,"s":3,"x":238.6,"y":99.8},{"n":-19,"s":4,"x":238.2,"y":116},{"n":-19,"s":5,"x":238.6,"y":140.1},{"n":-19,"s":6,"x":238.9,"y":148.2},
{"n":19,"s":0,"x":254.3,"y":69.5},{"n":19,"s":1,"x":256.4,"y":80.8},{"n":19,"s":2,"x":258.9,"y":89.5},{"n":19,"s":3,"x":261.1,"y":100.1},{"n":19,"s":4,"x":262,"y":116.4},{"n":19,"s":5,"x":261.1,"y":140.4},{"n":19,"s":6,"x":260.8,"y":147.9},
{"n":18,"s":0,"x":266.8,"y":70.8},{"n":18,"s":1,"x":271.7,"y":82.3},{"n":18,"s":2,"x":277.9,"y":91.3},{"n":18,"s":3,"x":283,"y":102.3},{"n":18,"s":4,"x":285.2,"y":118.6},{"n":18,"s":5,"x":283,"y":142.6},
{"n":17,"s":0,"x":278.8,"y":73},{"n":17,"s":1,"x":286.3,"y":85},{"n":17,"s":2,"x":296,"y":94.7},{"n":17,"s":3,"x":304,"y":106.2},{"n":17,"s":4,"x":307.4,"y":122.7},{"n":17,"s":5,"x":305.8,"y":134},
{"n":16,"s":0,"x":289.8,"y":76.1},{"n":16,"s":1,"x":299.9,"y":88.9},{"n":16,"s":2,"x":312.8,"y":99.4},{"n":16,"s":3,"x":323.5,"y":111.7},
{"n":15,"s":0,"x":299.8,"y":80.1},{"n":15,"s":1,"x":312.1,"y":93.8},{"n":15,"s":2,"x":323.3,"y":102}
],
"g":[
{"g":"l6","s":0,"x":39,"y":95.2},{"g":"l6","s":1,"x":272.4,"y":5.2},{"g":"r6","s":0,"x":272.4,"y":5.2},{"g":"r6","s":1,"x":451.7,"y":122.5},
{"g":"l5","s":0,"x":39,"y":159},{"g":"l5","s":1,"x":272.4,"y":69},{"g":"r5","s":0,"x":272.4,"y":69},{"g":"r5","s":1,"x":451.7,"y":186.3},
{"g":"l4","s":0,"x":39,"y":222.7},{"g":"l4","s":1,"x":272.4,"y":132.7},{"g":"r4","s":0,"x":272.4,"y":132.7},{"g":"r4","s":1,"x":451.7,"y":250},
{"g":"l3","s":0,"x":39,"y":286.5},{"g":"l3","s":1,"x":272.4,"y":196.5},{"g":"r3","s":0,"x":272.4,"y":196.5},{"g":"r3","s":1,"x":451.7,"y":313.8},
{"g":"l2","s":0,"x":39,"y":350.2},{"g":"l2","s":1,"x":272.4,"y":260.2},{"g":"r2","s":0,"x":272.4,"y":260.2},{"g":"r2","s":1,"x":451.7,"y":377.5},
{"g":"l1","s":0,"x":39,"y":414},{"g":"l1","s":1,"x":272.4,"y":324},{"g":"r1","s":0,"x":272.4,"y":324},{"g":"r1","s":1,"x":451.7,"y":441.3},
{"g":"l0","s":0,"x":39,"y":477.7},{"g":"l0","s":1,"x":272.4,"y":387.7},{"g":"r0","s":0,"x":272.4,"y":387.7},{"g":"r0","s":1,"x":451.7,"y":505},
{"g":"v1","s":0,"x":155.7,"y":432.7},{"g":"v1","s":1,"x":155.7,"y":50.2},{"g":"v2","s":0,"x":272.4,"y":387.7},{"g":"v2","s":1,"x":272.4,"y":5.2},{"g":"v3","s":0,"x":362,"y":446.3},{"g":"v3","s":1,"x":362,"y":63.8},{"g":"v4","s":0,"x":451.7,"y":505},{"g":"v4","s":1,"x":451.7,"y":122.5},
{"g":"f1","s":0,"x":335,"y":550},{"g":"f1","s":1,"x":155.7,"y":432.7},{"g":"f2","s":0,"x":128.7,"y":536.3},{"g":"f2","s":1,"x":362,"y":446.3}
],
"k":[
{"g":"ax","s":0,"x":39,"y":477.7},{"g":"ax","s":1,"x":218.3,"y":595},{"g":"ax","s":2,"x":451.7,"y":505},
{"g":"tz6","s":0,"x":31,"y":90.8},{"g":"tz6","s":1,"x":39,"y":95.2},{"g":"tz5","s":0,"x":31,"y":154.6},{"g":"tz5","s":1,"x":39,"y":159},{"g":"tz4","s":0,"x":31,"y":218.3},{"g":"tz4","s":1,"x":39,"y":222.7},{"g":"tz3","s":0,"x":31,"y":282.1},{"g":"tz3","s":1,"x":39,"y":286.5},{"g":"tz2","s":0,"x":31,"y":345.8},{"g":"tz2","s":1,"x":39,"y":350.2},{"g":"tz1","s":0,"x":31,"y":409.6},{"g":"tz1","s":1,"x":39,"y":414},{"g":"tz0","s":0,"x":31,"y":473.3},{"g":"tz0","s":1,"x":39,"y":477.7},
{"g":"ty2","s":0,"x":30,"y":481.5},{"g":"ty2","s":1,"x":39,"y":477.7},{"g":"ty0","s":0,"x":120,"y":539.6},{"g":"ty0","s":1,"x":128.7,"y":536.3},{"g":"tyn","s":0,"x":209.3,"y":597.7},{"g":"tyn","s":1,"x":218.3,"y":595},
{"g":"tx2","s":0,"x":451.7,"y":505},{"g":"tx2","s":1,"x":460,"y":510.7},{"g":"tx0","s":0,"x":334.5,"y":549.5},{"g":"tx0","s":1,"x":342.7,"y":555},{"g":"txn","s":0,"x":218.3,"y":595},{"g":"txn","s":1,"x":226,"y":600.7}
],
"z":[{"s":0,"x":39,"y":95.2},{"s":1,"x":39,"y":477.7}],
"t":[
{"t":"6","x":19.3,"y":88},{"t":"5","x":19.3,"y":152.5},{"t":"4","x":19.3,"y":216.5},{"t":"3","x":19.3,"y":280.2},{"t":"2","x":19.3,"y":344},{"t":"1","x":19.3,"y":407.7},{"t":"0","x":19.3,"y":471.5},
{"t":"2","x":18.3,"y":496.7},{"t":"0","x":107.3,"y":554.3},{"t":"−2","x":191.7,"y":613.3},
{"t":"−2","x":243.3,"y":615},{"t":"0","x":353.3,"y":571.7},{"t":"2","x":471,"y":526.7}
]
},
"data":{"name":"d"},
"encoding":{"x":{"field":"x","type":"quantitative","axis":null,"scale":{"domain":[0,472],"nice":false,"zero":false}},"y":{"field":"y","type":"quantitative","axis":null,"scale":{"domain":[624,0],"nice":false,"zero":false}}},
"layer":[
{"data":{"name":"g"},"mark":{"type":"line","stroke":"#333","strokeWidth":1,"strokeDash":[1,9.5]},"encoding":{"detail":{"field":"g","type":"nominal"},"order":{"field":"s","type":"quantitative"}}},
{"data":{"name":"z"},"mark":{"type":"line","stroke":"#777","strokeWidth":2.2},"encoding":{"order":{"field":"s","type":"quantitative"}}},
{"data":{"name":"k"},"mark":{"type":"line","stroke":"#1a1a1a","strokeWidth":1},"encoding":{"detail":{"field":"g","type":"nominal"},"order":{"field":"s","type":"quantitative"}}},
{"data":{"name":"t"},"mark":{"type":"text","font":"Liberation Sans","fontSize":21,"align":"center","baseline":"middle","color":"#111"},"encoding":{"text":{"field":"t"}}},

{"transform":[{"filter":"datum.i==0"}],"mark":"line","encoding":{"fill":{"field":"i","type":"quantitative","legend":null,"scale":{"domain":[0,2.375,7.125,11.875,16.625,19],"range":["#00008f","#0000ff","#00ffff","#ffff00","#ff0000","#800000"],"interpolate":"rgb","zero":false,"nice":false}},"order":{"field":"n","type":"quantitative"}}},
{"transform":[{"filter":"datum.i==0||datum.i==1"}],"mark":{"type":"line","stroke":"#cfe4ff","strokeWidth":0.6,"opacity":0.35},"encoding":{"detail":{"field":"a","type":"nominal"},"order":{"field":"i","type":"quantitative"}}},
{"transform":[{"filter":"datum.i==0||datum.i==1"}],"mark":"line","encoding":{"detail":{"field":"n","type":"nominal"},"order":{"field":"i","type":"quantitative"}}},
{"transform":[{"filter":"datum.i==1"}],"mark":"line","encoding":{"fill":{"field":"i","type":"quantitative","legend":null},"order":{"field":"n","type":"quantitative"}}},
{"transform":[{"filter":"datum.i==1||datum.i==2"}],"mark":{"type":"line","stroke":"#cfe4ff","strokeWidth":0.6,"opacity":0.35},"encoding":{"detail":{"field":"a","type":"nominal"},"order":{"field":"i","type":"quantitative"}}},
{"transform":[{"filter":"datum.i==1||datum.i==2"}],"mark":"line","encoding":{"detail":{"field":"n","type":"nominal"},"order":{"field":"i","type":"quantitative"}}},
{"transform":[{"filter":"datum.i==2"}],"mark":"line","encoding":{"fill":{"field":"i","type":"quantitative","legend":null},"order":{"field":"n","type":"quantitative"}}},
{"transform":[{"filter":"datum.i==2||datum.i==3"}],"mark":{"type":"line","stroke":"#cfe4ff","strokeWidth":0.6,"opacity":0.35},"encoding":{"detail":{"field":"a","type":"nominal"},"order":{"field":"i","type":"quantitative"}}},
{"transform":[{"filter":"datum.i==2||datum.i==3"}],"mark":"line","encoding":{"detail":{"field":"n","type":"nominal"},"order":{"field":"i","type":"quantitative"}}},
{"transform":[{"filter":"datum.i==3"}],"mark":"line","encoding":{"fill":{"field":"i","type":"quantitative","legend":null},"order":{"field":"n","type":"quantitative"}}},
{"transform":[{"filter":"datum.i==3||datum.i==4"}],"mark":{"type":"line","stroke":"#cfe4ff","strokeWidth":0.6,"opacity":0.35},"encoding":{"detail":{"field":"a","type":"nominal"},"order":{"field":"i","type":"quantitative"}}},
{"transform":[{"filter":"datum.i==3||datum.i==4"}],"mark":"line","encoding":{"detail":{"field":"n","type":"nominal"},"order":{"field":"i","type":"quantitative"}}},
{"transform":[{"filter":"datum.i==4"}],"mark":"line","encoding":{"fill":{"field":"i","type":"quantitative","legend":null},"order":{"field":"n","type":"quantitative"}}},
{"transform":[{"filter":"datum.i==4||datum.i==5"}],"mark":{"type":"line","stroke":"#cfe4ff","strokeWidth":0.6,"opacity":0.35},"encoding":{"detail":{"field":"a","type":"nominal"},"order":{"field":"i","type":"quantitative"}}},
{"transform":[{"filter":"datum.i==4||datum.i==5"}],"mark":"line","encoding":{"detail":{"field":"n","type":"nominal"},"order":{"field":"i","type":"quantitative"}}},
{"transform":[{"filter":"datum.i==5"}],"mark":"line","encoding":{"fill":{"field":"i","type":"quantitative","legend":null},"order":{"field":"n","type":"quantitative"}}},
{"transform":[{"filter":"datum.i==5||datum.i==6"}],"mark":{"type":"line","stroke":"#cfe4ff","strokeWidth":0.6,"opacity":0.35},"encoding":{"detail":{"field":"a","type":"nominal"},"order":{"field":"i","type":"quantitative"}}},
{"transform":[{"filter":"datum.i==5||datum.i==6"}],"mark":"line","encoding":{"detail":{"field":"n","type":"nominal"},"order":{"field":"i","type":"quantitative"}}},
{"transform":[{"filter":"datum.i==6"}],"mark":"line","encoding":{"fill":{"field":"i","type":"quantitative","legend":null},"order":{"field":"n","type":"quantitative"}}},
{"transform":[{"filter":"datum.i==6||datum.i==7"}],"mark":{"type":"line","stroke":"#66ccff","strokeWidth":0.6,"opacity":0.5},"encoding":{"detail":{"field":"a","type":"nominal"},"order":{"field":"i","type":"quantitative"}}},
{"transform":[{"filter":"datum.i==6||datum.i==7"}],"mark":"line","encoding":{"detail":{"field":"n","type":"nominal"},"order":{"field":"i","type":"quantitative"}}},
{"transform":[{"filter":"datum.i==7"}],"mark":"line","encoding":{"fill":{"field":"i","type":"quantitative","legend":null},"order":{"field":"n","type":"quantitative"}}},
{"transform":[{"filter":"datum.i==7||datum.i==8"}],"mark":{"type":"line","stroke":"#66ccff","strokeWidth":0.6,"opacity":0.5},"encoding":{"detail":{"field":"a","type":"nominal"},"order":{"field":"i","type":"quantitative"}}},
{"transform":[{"filter":"datum.i==7||datum.i==8"}],"mark":"line","encoding":{"detail":{"field":"n","type":"nominal"},"order":{"field":"i","type":"quantitative"}}},
{"transform":[{"filter":"datum.i==8"}],"mark":"line","encoding":{"fill":{"field":"i","type":"quantitative","legend":null},"order":{"field":"n","type":"quantitative"}}},
{"transform":[{"filter":"datum.i==8||datum.i==9"}],"mark":{"type":"line","stroke":"#44ccbb","strokeWidth":0.6,"opacity":0.5},"encoding":{"detail":{"field":"a","type":"nominal"},"order":{"field":"i","type":"quantitative"}}},
{"transform":[{"filter":"datum.i==8||datum.i==9"}],"mark":"line","encoding":{"detail":{"field":"n","type":"nominal"},"order":{"field":"i","type":"quantitative"}}},
{"transform":[{"filter":"datum.i==9"}],"mark":"line","encoding":{"fill":{"field":"i","type":"quantitative","legend":null},"order":{"field":"n","type":"quantitative"}}},
{"transform":[{"filter":"datum.i==9||datum.i==10"}],"mark":{"type":"line","stroke":"#44cc99","strokeWidth":0.6,"opacity":0.5},"encoding":{"detail":{"field":"a","type":"nominal"},"order":{"field":"i","type":"quantitative"}}},
{"transform":[{"filter":"datum.i==9||datum.i==10"}],"mark":"line","encoding":{"detail":{"field":"n","type":"nominal"},"order":{"field":"i","type":"quantitative"}}},
{"transform":[{"filter":"datum.i==10"}],"mark":"line","encoding":{"fill":{"field":"i","type":"quantitative","legend":null},"order":{"field":"n","type":"quantitative"}}},
{"transform":[{"filter":"datum.i==10||datum.i==11"}],"mark":{"type":"line","stroke":"#66cc66","strokeWidth":0.6,"opacity":0.5},"encoding":{"detail":{"field":"a","type":"nominal"},"order":{"field":"i","type":"quantitative"}}},
{"transform":[{"filter":"datum.i==10||datum.i==11"}],"mark":"line","encoding":{"detail":{"field":"n","type":"nominal"},"order":{"field":"i","type":"quantitative"}}},
{"transform":[{"filter":"datum.i==11"}],"mark":"line","encoding":{"fill":{"field":"i","type":"quantitative","legend":null},"order":{"field":"n","type":"quantitative"}}},
{"transform":[{"filter":"datum.i==11||datum.i==12"}],"mark":{"type":"line","stroke":"#aacc33","strokeWidth":0.6,"opacity":0.5},"encoding":{"detail":{"field":"a","type":"nominal"},"order":{"field":"i","type":"quantitative"}}},
{"transform":[{"filter":"datum.i==11||datum.i==12"}],"mark":"line","encoding":{"detail":{"field":"n","type":"nominal"},"order":{"field":"i","type":"quantitative"}}},
{"transform":[{"filter":"datum.i==12"}],"mark":"line","encoding":{"fill":{"field":"i","type":"quantitative","legend":null},"order":{"field":"n","type":"quantitative"}}},
{"transform":[{"filter":"datum.i==12||datum.i==13"}],"mark":{"type":"line","stroke":"#ccaa33","strokeWidth":0.6,"opacity":0.5},"encoding":{"detail":{"field":"a","type":"nominal"},"order":{"field":"i","type":"quantitative"}}},
{"transform":[{"filter":"datum.i==12||datum.i==13"}],"mark":"line","encoding":{"detail":{"field":"n","type":"nominal"},"order":{"field":"i","type":"quantitative"}}},
{"transform":[{"filter":"datum.i==13"}],"mark":"line","encoding":{"fill":{"field":"i","type":"quantitative","legend":null},"order":{"field":"n","type":"quantitative"}}},
{"transform":[{"filter":"datum.i==13||datum.i==14"}],"mark":{"type":"line","stroke":"#dd9933","strokeWidth":0.6,"opacity":0.5},"encoding":{"detail":{"field":"a","type":"nominal"},"order":{"field":"i","type":"quantitative"}}},
{"transform":[{"filter":"datum.i==13||datum.i==14"}],"mark":"line","encoding":{"detail":{"field":"n","type":"nominal"},"order":{"field":"i","type":"quantitative"}}},
{"transform":[{"filter":"datum.i==14"}],"mark":"line","encoding":{"fill":{"field":"i","type":"quantitative","legend":null},"order":{"field":"n","type":"quantitative"}}},
{"transform":[{"filter":"datum.i==14||datum.i==15"}],"mark":{"type":"line","stroke":"#ff9933","strokeWidth":0.6,"opacity":0.5},"encoding":{"detail":{"field":"a","type":"nominal"},"order":{"field":"i","type":"quantitative"}}},
{"transform":[{"filter":"datum.i==14||datum.i==15"}],"mark":"line","encoding":{"detail":{"field":"n","type":"nominal"},"order":{"field":"i","type":"quantitative"}}},
{"transform":[{"filter":"datum.i==15"}],"mark":"line","encoding":{"fill":{"field":"i","type":"quantitative","legend":null},"order":{"field":"n","type":"quantitative"}}},
{"transform":[{"filter":"datum.i==15||datum.i==16"}],"mark":{"type":"line","stroke":"#ff9933","strokeWidth":0.6,"opacity":0.5},"encoding":{"detail":{"field":"a","type":"nominal"},"order":{"field":"i","type":"quantitative"}}},
{"transform":[{"filter":"datum.i==15||datum.i==16"}],"mark":"line","encoding":{"detail":{"field":"n","type":"nominal"},"order":{"field":"i","type":"quantitative"}}},
{"transform":[{"filter":"datum.i==16"}],"mark":"line","encoding":{"fill":{"field":"i","type":"quantitative","legend":null},"order":{"field":"n","type":"quantitative"}}},
{"transform":[{"filter":"datum.i==16||datum.i==17"}],"mark":{"type":"line","stroke":"#ff9933","strokeWidth":0.6,"opacity":0.5},"encoding":{"detail":{"field":"a","type":"nominal"},"order":{"field":"i","type":"quantitative"}}},
{"transform":[{"filter":"datum.i==16||datum.i==17"}],"mark":"line","encoding":{"detail":{"field":"n","type":"nominal"},"order":{"field":"i","type":"quantitative"}}},
{"transform":[{"filter":"datum.i==17"}],"mark":"line","encoding":{"fill":{"field":"i","type":"quantitative","legend":null},"order":{"field":"n","type":"quantitative"}}},
{"transform":[{"filter":"datum.i==17||datum.i==18"}],"mark":{"type":"line","stroke":"#ff9933","strokeWidth":0.6,"opacity":0.5},"encoding":{"detail":{"field":"a","type":"nominal"},"order":{"field":"i","type":"quantitative"}}},
{"transform":[{"filter":"datum.i==17||datum.i==18"}],"mark":"line","encoding":{"detail":{"field":"n","type":"nominal"},"order":{"field":"i","type":"quantitative"}}},
{"transform":[{"filter":"datum.i==18"}],"mark":"line","encoding":{"fill":{"field":"i","type":"quantitative","legend":null},"order":{"field":"n","type":"quantitative"}}},
{"transform":[{"filter":"datum.i==18||datum.i==19"}],"mark":{"type":"line","stroke":"#ff9933","strokeWidth":0.6,"opacity":0.5},"encoding":{"detail":{"field":"a","type":"nominal"},"order":{"field":"i","type":"quantitative"}}},
{"transform":[{"filter":"datum.i==18||datum.i==19"}],"mark":"line","encoding":{"detail":{"field":"n","type":"nominal"},"order":{"field":"i","type":"quantitative"}}},

{"transform":[{"filter":"datum.i==19"}],"mark":{"type":"line","fill":"#b50000"},"encoding":{"order":{"field":"n","type":"quantitative"}}},
{"data":{"name":"w"},"transform":[{"filter":"datum.i==17"}],"mark":"line","encoding":{"fill":{"field":"i","type":"quantitative","legend":null},"order":{"field":"s","type":"quantitative"}}},
{"data":{"name":"w"},"transform":[{"filter":"datum.i==16"}],"mark":"line","encoding":{"fill":{"field":"i","type":"quantitative","legend":null},"order":{"field":"s","type":"quantitative"}}},
{"data":{"name":"w"},"transform":[{"filter":"datum.i==15"}],"mark":"line","encoding":{"fill":{"field":"i","type":"quantitative","legend":null},"order":{"field":"s","type":"quantitative"}}},
{"data":{"name":"w"},"transform":[{"filter":"datum.i==14"}],"mark":"line","encoding":{"fill":{"field":"i","type":"quantitative","legend":null},"order":{"field":"s","type":"quantitative"}}},
{"data":{"name":"w"},"transform":[{"filter":"datum.i==13"}],"mark":"line","encoding":{"fill":{"field":"i","type":"quantitative","legend":null},"order":{"field":"s","type":"quantitative"}}},
{"data":{"name":"v"},"mark":"line","encoding":{"detail":{"field":"n","type":"nominal"},"order":{"field":"s","type":"quantitative"}}}
]
}
